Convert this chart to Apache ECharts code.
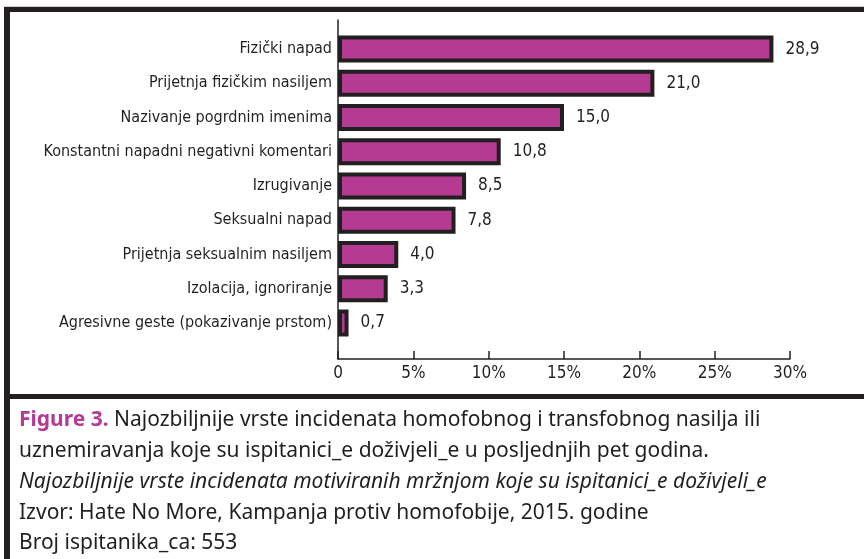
<!DOCTYPE html>
<html>
<head>
<meta charset="UTF-8">
<title>Figure 3</title>
<script src="https://cdn.jsdelivr.net/npm/echarts@6/dist/echarts.min.js"></script>
</head>
<body style="margin:0;background:#fff;">
<div id="main" style="width:864px;height:559px;"></div>
<script type="text/javascript">
// categories, top to bottom
var categories = ['Fizički napad', 'Prijetnja fizičkim nasiljem', 'Nazivanje pogrdnim imenima',
    'Konstantni napadni negativni komentari', 'Izrugivanje', 'Seksualni napad',
    'Prijetnja seksualnim nasiljem', 'Izolacija, ignoriranje', 'Agresivne geste (pokazivanje prstom)'];
// share of respondents, %
var values = [28.9, 21.0, 15.0, 10.8, 8.5, 7.8, 4.0, 3.3, 0.7];
var xTicks = [0, 5, 10, 15, 20, 25, 30];
var captionLines = [
    '{b|Figure 3.} Najozbiljnije vrste incidenata homofobnog i transfobnog nasilja ili',
    'uznemiravanja koje su ispitanici_e doživjeli_e u posljednjih pet godina.',
    '{i|Najozbiljnije vrste incidenata motiviranih mržnjom koje su ispitanici_e doživjeli_e}',
    'Izvor: Hate No More, Kampanja protiv homofobije, 2015. godine',
    'Broj ispitanika_ca: 553'
];

var dark = '#231f20';
var pink = '#b53a92';
var condensed = '"DejaVu Sans Condensed", "Liberation Sans Narrow", sans-serif';
var captionFont = '"Noto Sans", "Open Sans", sans-serif';

var myChart = echarts.init(document.getElementById('main'));

// frame lines
var graphics = [
    { type: 'rect', shape: { x: 4, y: 6, width: 860, height: 1 }, style: { fill: '#cfcfcf' } },
    { type: 'rect', shape: { x: 4, y: 7, width: 860, height: 5 }, style: { fill: dark } },
    { type: 'rect', shape: { x: 4, y: 7, width: 6, height: 552 }, style: { fill: dark } },
    { type: 'rect', shape: { x: 4, y: 394, width: 860, height: 5 }, style: { fill: dark } }
];
// caption, one text per line
var lineTop = [410, 441, 472, 503, 533];
captionLines.forEach(function (t, i) {
    graphics.push({
        type: 'text',
        left: 19,
        top: lineTop[i],
        style: {
            text: t,
            fill: dark,
            font: '21px ' + captionFont,
            rich: {
                b: { fill: pink, fontWeight: 'bold', fontSize: 21, fontFamily: captionFont },
                i: { fill: dark, fontStyle: 'italic', fontSize: 21, fontFamily: captionFont }
            }
        }
    });
});

var option = {
    animation: false,
    backgroundColor: '#fff',
    grid: [
        { left: 338, right: 74, top: 32, bottom: 219 },
        { left: 338, right: 74, top: 20, bottom: 200 }
    ],
    xAxis: [{
        gridIndex: 0,
        type: 'value',
        min: xTicks[0],
        max: xTicks[xTicks.length - 1],
        interval: 5,
        offset: 19,
        axisLine: { show: true, lineStyle: { color: dark, width: 1.5 } },
        axisTick: { show: true, inside: true, length: 8, lineStyle: { color: dark, width: 1.5 } },
        splitLine: { show: false },
        axisLabel: {
            margin: 6,
            color: dark,
            fontSize: 17,
            fontFamily: condensed,
            formatter: function (v) { return v === 0 ? '0' : v + '%'; }
        }
    }, {
        gridIndex: 1,
        type: 'value',
        show: false,
        min: 0,
        max: 30
    }],
    yAxis: [{
        gridIndex: 0,
        type: 'category',
        data: categories,
        inverse: true,
        axisLine: { show: false },
        axisTick: { show: false },
        axisLabel: { margin: 6, color: dark, fontSize: 16, fontFamily: condensed }
    }, {
        gridIndex: 1,
        type: 'value',
        min: 0,
        max: 1,
        axisLine: { show: true, lineStyle: { color: dark, width: 1.5 } },
        axisTick: { show: false },
        axisLabel: { show: false },
        splitLine: { show: false }
    }],
    series: [{
        type: 'bar',
        xAxisIndex: 0,
        yAxisIndex: 0,
        data: values,
        barWidth: 27,
        itemStyle: { color: pink, borderColor: dark, borderWidth: 4 },
        label: {
            show: true,
            position: 'right',
            distance: 12,
            color: dark,
            fontSize: 17,
            fontFamily: condensed,
            formatter: function (p) { return p.value.toFixed(1).replace('.', ','); }
        }
    }],
    graphic: graphics
};
myChart.setOption(option);
</script>
</body>
</html>
